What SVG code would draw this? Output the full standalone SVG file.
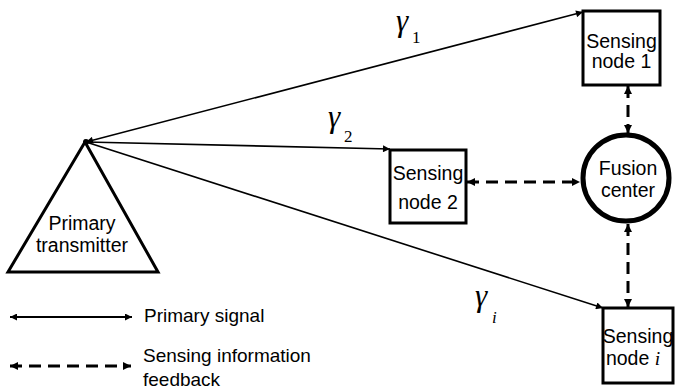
<svg xmlns="http://www.w3.org/2000/svg" width="675" height="389" viewBox="0 0 675 389">
<defs>
<marker id="ah" viewBox="0 0 10 10" refX="10" refY="5" markerWidth="9" markerHeight="7" markerUnits="userSpaceOnUse" orient="auto-start-reverse">
<path d="M0,0 L10,5 L0,10 Z" fill="#000"/>
</marker>
<marker id="ahd" viewBox="0 0 10 10" refX="10" refY="5" markerWidth="8" markerHeight="8" markerUnits="userSpaceOnUse" orient="auto-start-reverse">
<path d="M0,0 L10,5 L0,10 Z" fill="#000"/>
</marker>
<style>
.t{font-family:"Liberation Sans",Arial,sans-serif;font-size:19.5px;fill:#000;text-anchor:middle}
.tl{font-family:"Liberation Sans",Arial,sans-serif;font-size:19px;fill:#000}
.g{font-family:"Liberation Serif","Times New Roman",serif;font-style:italic;font-size:31px;fill:#000}
.s{font-family:"Liberation Serif","Times New Roman",serif;font-size:17px;fill:#000}
.si{font-family:"Liberation Serif","Times New Roman",serif;font-style:italic;font-size:17px;fill:#000}
.box{fill:#fff;stroke:#000;stroke-width:3}
.ray{fill:none;stroke:#000;stroke-width:1.6}
.dash{fill:none;stroke:#000;stroke-width:3;stroke-dasharray:12 7}
</style>
</defs>
<rect width="675" height="389" fill="#fff"/>
<g id="connectors">
<line class="ray" x1="86" y1="142" x2="583" y2="12" marker-start="url(#ah)" marker-end="url(#ah)"/>
<line class="ray" x1="86" y1="142" x2="390" y2="149" marker-end="url(#ah)"/>
<line class="ray" x1="86" y1="142" x2="603" y2="308" marker-end="url(#ah)"/>
<line class="dash" x1="628" y1="86" x2="628" y2="133" marker-start="url(#ahd)" marker-end="url(#ahd)"/>
<line class="dash" x1="467" y1="182" x2="580" y2="182" marker-start="url(#ahd)" marker-end="url(#ahd)"/>
<line class="dash" x1="628" y1="224" x2="628" y2="307" marker-start="url(#ahd)" marker-end="url(#ahd)"/>
<text class="g" x="396" y="31">γ</text><text class="s" x="412" y="43">1</text>
<text class="g" x="328" y="127">γ</text><text class="s" x="344" y="142">2</text>
<text class="g" x="475" y="306">γ</text><text class="si" x="492" y="323">i</text>
</g>
<g id="transmitter">
<path d="M85,142 L8,272 L158,272 Z" fill="#fff" stroke="#000" stroke-width="3" stroke-linejoin="miter"/>
<circle cx="86" cy="142" r="3" fill="#000"/>
<text class="t" x="82" y="230">Primary</text>
<text class="t" x="82" y="252">transmitter</text>
</g>
<g id="node1">
<rect class="box" x="583" y="11" width="77" height="74"/>
<text class="t" x="621.5" y="48">Sensing</text>
<text class="t" x="621.5" y="68">node 1</text>
</g>
<g id="node2">
<rect class="box" x="390" y="150" width="76" height="73"/>
<text class="t" x="428" y="180">Sensing</text>
<text class="t" x="428" y="209">node 2</text>
</g>
<g id="fusion">
<circle cx="626" cy="178" r="43" fill="#fff" stroke="#000" stroke-width="5"/>
<text class="t" x="628" y="175">Fusion</text>
<text class="t" x="628" y="197">center</text>
</g>
<g id="nodei">
<rect class="box" x="603" y="308" width="70" height="75"/>
<text class="t" x="638" y="343">Sensing</text>
<text class="t" x="633" y="365">node <tspan font-family="'Liberation Serif',serif" font-style="italic">i</tspan></text>
</g>
<g id="legend">
<line x1="10" y1="317" x2="132" y2="317" stroke="#000" stroke-width="1.8" marker-start="url(#ah)" marker-end="url(#ah)"/>
<text class="tl" x="144" y="322">Primary signal</text>
<line class="dash" x1="10" y1="366" x2="131" y2="366" marker-start="url(#ahd)" marker-end="url(#ahd)"/>
<text class="tl" x="143" y="362">Sensing information</text>
<text class="tl" x="143" y="386">feedback</text>
</g>
</svg>
